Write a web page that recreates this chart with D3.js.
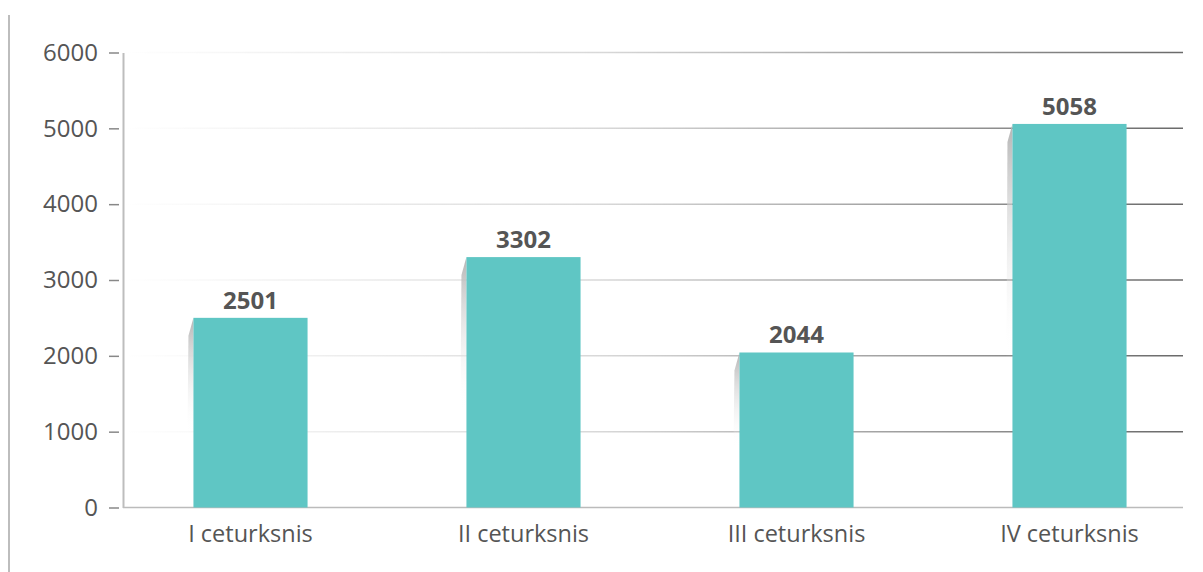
<!DOCTYPE html>
<html>
<head>
<meta charset="utf-8">
<script src="https://cdn.jsdelivr.net/npm/d3@7"></script>
<style>
  html, body { margin: 0; padding: 0; background: #fff; }
  svg { display: block; font-family: "Open Sans", "Noto Sans", sans-serif; }
</style>
</head>
<body>
<div id="chart"></div>
<script>
// quarterly values
const categories = ['I ceturksnis', 'II ceturksnis', 'III ceturksnis', 'IV ceturksnis'];
const values = [2501, 3302, 2044, 5058];
const yTicks = [0, 1000, 2000, 3000, 4000, 5000, 6000];

const WIDTH = 1203;
const HEIGHT = 572;
const MARGINS = { top: 52.5, bottom: 64.5, left: 123, right: 20 };
const BAR_COLOR = '#5fc6c4';
const TEXT_COLOR = '#555';
const FONT = '"Open Sans", "Noto Sans", sans-serif';

const svg = d3.select('#chart')
    .append('svg')
    .attr('width', WIDTH)
    .attr('height', HEIGHT);

const defs = svg.append('defs');

// gridlines fade from white on the left to grey on the right
const gridGrad = defs.append('linearGradient')
    .attr('id', 'grid-grad')
    .attr('gradientUnits', 'userSpaceOnUse')
    .attr('x1', MARGINS.left).attr('x2', WIDTH - MARGINS.right)
    .attr('y1', 0).attr('y2', 0);
gridGrad.append('stop').attr('offset', '0%').attr('stop-color', '#ffffff');
gridGrad.append('stop').attr('offset', '45%').attr('stop-color', '#d8d8d8');
gridGrad.append('stop').attr('offset', '100%').attr('stop-color', '#6a6a6a');

// bar shadow
const shadowGrad = defs.append('linearGradient')
    .attr('id', 'shadow-grad')
    .attr('x1', 0).attr('x2', 0).attr('y1', 0).attr('y2', 1);
shadowGrad.append('stop').attr('offset', '0%').attr('stop-color', '#b5b5b5');
shadowGrad.append('stop').attr('offset', '100%').attr('stop-color', '#ffffff').attr('stop-opacity', 0);

// left border line
svg.append('line')
    .attr('x1', 9).attr('x2', 9)
    .attr('y1', 15).attr('y2', HEIGHT)
    .attr('stroke', '#bdbdbd')
    .attr('stroke-width', 2);

const xScale = d3.scaleBand()
    .domain(categories)
    .range([114, 1206])
    .paddingInner(0.582)
    .paddingOuter(0.291);

const yScale = d3.scaleLinear()
    .domain([0, 6000])
    .range([HEIGHT - MARGINS.bottom, MARGINS.top]);

// grid lines
svg.selectAll('line.grid')
    .data(yTicks.filter(d => d > 0))
    .join('line')
        .attr('class', 'grid')
        .attr('x1', MARGINS.left)
        .attr('x2', WIDTH - MARGINS.right)
        .attr('y1', d => yScale(d))
        .attr('y2', d => yScale(d))
        .attr('stroke', 'url(#grid-grad)')
        .attr('stroke-width', 1.5);

// baseline
svg.append('line')
    .attr('x1', MARGINS.left)
    .attr('x2', WIDTH - MARGINS.right)
    .attr('y1', yScale(0))
    .attr('y2', yScale(0))
    .attr('stroke', '#bbbbbb')
    .attr('stroke-width', 1.5);

// Y axis
const yAxis = d3.axisLeft(yScale)
    .tickValues(yTicks)
    .tickFormat(d3.format('d'))
    .tickSize(0)
    .tickPadding(25);
const gY = svg.append('g')
    .attr('class', 'y-axis')
    .attr('transform', `translate(${MARGINS.left}, 0)`)
    .call(yAxis)
    .attr('font-family', FONT)
    .attr('font-size', 24);
gY.select('.domain')
    .attr('stroke', '#bdbdbd')
    .attr('stroke-width', 2);
gY.selectAll('.tick text')
    .attr('fill', TEXT_COLOR);
gY.selectAll('.tick')
    .append('line')
    .attr('x1', -14).attr('x2', -4)
    .attr('stroke', '#888')
    .attr('stroke-width', 1.5);

// shadows on the left of each bar
svg.selectAll('path.shadow')
    .data(values)
    .join('path')
        .attr('class', 'shadow')
        .attr('d', (d, i) => {
            const x = xScale(categories[i]);
            const top = yScale(d);
            const h = yScale(0) - top;
            const len = h * 0.62;
            return `M${x},${top} L${x - 5},${top + 18} L${x - 6},${top + len} L${x},${top + len} Z`;
        })
        .attr('fill', 'url(#shadow-grad)');

// bars
svg.selectAll('rect.bar')
    .data(values)
    .join('rect')
        .attr('class', 'bar')
        .attr('x', (d, i) => xScale(categories[i]))
        .attr('y', d => yScale(d))
        .attr('width', xScale.bandwidth())
        .attr('height', d => yScale(0) - yScale(d))
        .attr('fill', BAR_COLOR);

// value labels
svg.selectAll('text.bar-text')
    .data(values)
    .join('text')
        .attr('class', 'bar-text')
        .text(d => d)
        .attr('x', (d, i) => xScale(categories[i]) + xScale.bandwidth() / 2)
        .attr('y', d => yScale(d) - 9)
        .attr('text-anchor', 'middle')
        .attr('font-size', '24px')
        .attr('font-weight', 'bold')
        .attr('fill', TEXT_COLOR);

// category labels
svg.selectAll('text.cat')
    .data(categories)
    .join('text')
        .attr('class', 'cat')
        .text(d => d)
        .attr('x', d => xScale(d) + xScale.bandwidth() / 2)
        .attr('y', 542)
        .attr('text-anchor', 'middle')
        .attr('font-size', '23.5px')
        .attr('fill', TEXT_COLOR);
</script>
</body>
</html>
